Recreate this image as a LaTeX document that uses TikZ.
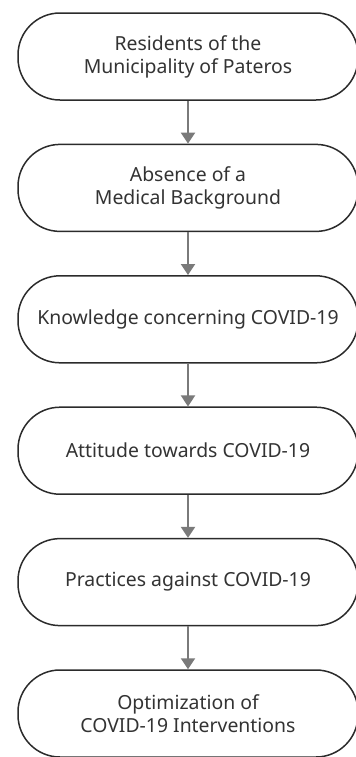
\documentclass[tikz,border=0pt]{standalone}
\usepackage{fontspec}
\setmainfont{Noto Sans}
\usetikzlibrary{arrows.meta}
\definecolor{boxline}{HTML}{2B2B2B}
\definecolor{boxtext}{HTML}{333333}
\definecolor{arrowgray}{HTML}{7A7A7A}
\tikzstyle{stage} = [rectangle, rounded corners=21pt,
minimum width=170pt,
minimum height=43.5pt,
text centered,
align=center,
draw=boxline,
line width=0.75pt,
text=boxtext,
font=\fontsize{9.7}{11.5}\selectfont]
\tikzstyle{arrow} = [line width=1pt, draw=arrowgray, -{Triangle[width=7pt,length=5.5pt]}]

\begin{document}
\begin{tikzpicture}[node distance=65.7pt]
\useasboundingbox (0,0) rectangle (177.5pt,-378.5pt);

\node (residents) [stage] at (94pt,-28.25pt) {Residents of the\\ Municipality of Pateros};
\node (absence) [stage, below of=residents] {Absence of a\\ Medical Background};
\node (knowledge) [stage, below of=absence] {Knowledge concerning COVID-19};
\node (attitude) [stage, below of=knowledge] {Attitude towards COVID-19};
\node (practices) [stage, below of=attitude] {Practices against COVID-19};
\node (optimize) [stage, below of=practices] {Optimization of\\ COVID-19 Interventions};

\draw [arrow] (residents) -- (absence);
\draw [arrow] (absence) -- (knowledge);
\draw [arrow] (knowledge) -- (attitude);
\draw [arrow] (attitude) -- (practices);
\draw [arrow] (practices) -- (optimize);

\end{tikzpicture}
\end{document}
